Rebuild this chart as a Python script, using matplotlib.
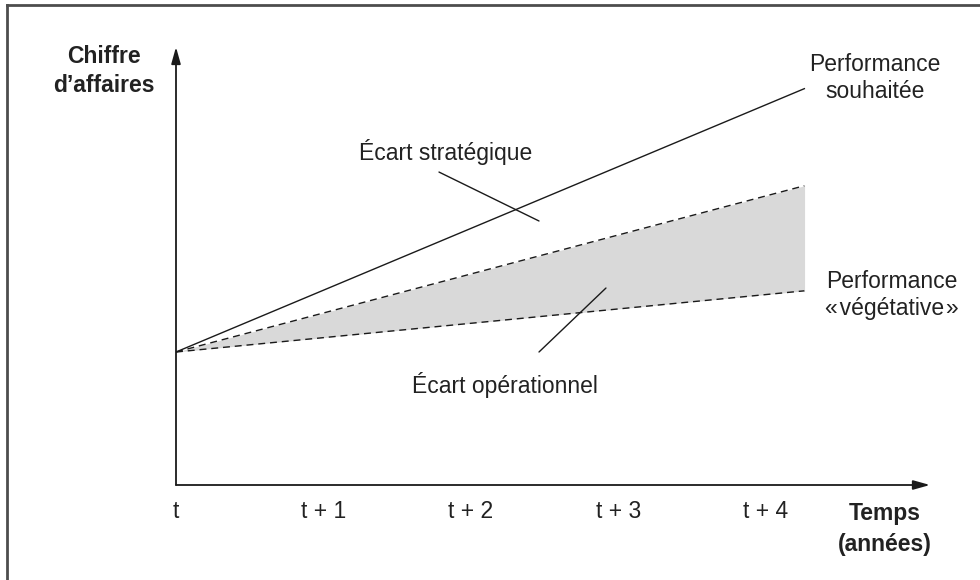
import matplotlib
matplotlib.use("Agg")
import matplotlib.pyplot as plt
from matplotlib.lines import Line2D

plt.rcParams['font.family'] = ['Liberation Sans', 'DejaVu Sans']

# ---- data ----
periods = ["t", "t + 1", "t + 2", "t + 3", "t + 4"]
period_pos = [0, 1, 2, 3, 4]
x_line = [0.0, 4.26]                 # time span of the curves
souhaitee = [1.0, 2.98]              # desired performance
operationnelle = [1.0, 2.25]         # upper bound of operational gap
vegetative = [1.0, 1.46]             # "vegetative" performance

W, H = 980, 580
fig = plt.figure(figsize=(W / 100, H / 100), dpi=100)

# axes placed so that the origin sits where the reference's origin is
x0, y0, x1, y1 = 176, 485, 930, 47
ax = fig.add_axes([x0 / W, (H - y0) / H, (x1 - x0) / W, (y0 - y1) / H])
kx = 147.5
ky = 133.0
xmax = (x1 - x0) / kx
ymax = (y0 - y1) / ky
ax.set_xlim(0, xmax)
ax.set_ylim(0, ymax)
for s in ax.spines.values():
    s.set_visible(False)
ax.set_yticks([])
ax.set_xticks(period_pos)
ax.set_xticklabels(periods, fontsize=16.5, color="#222222")
ax.tick_params(axis="x", length=0, pad=11)

ink = "#1a1a1a"
# axes arrows
ax.annotate("", xy=(xmax, 0), xytext=(0, 0),
            arrowprops=dict(arrowstyle="-|>,head_length=1.0,head_width=0.28",
                            color=ink, lw=1.3, shrinkA=0, shrinkB=0),
            annotation_clip=False)
ax.annotate("", xy=(0, ymax), xytext=(0, 0),
            arrowprops=dict(arrowstyle="-|>,head_length=1.0,head_width=0.28",
                            color=ink, lw=1.3, shrinkA=0, shrinkB=0),
            annotation_clip=False)

# fill between dashed lines
ax.fill_between(x_line, vegetative, operationnelle, color="#d9d9d9", lw=0, zorder=1)
ax.plot([x_line[-1], x_line[-1]], [vegetative[-1], operationnelle[-1]],
        color="#d9d9d9", lw=0.8, zorder=1)
ax.plot(x_line, souhaitee, color=ink, lw=1.0, zorder=3)
ax.plot(x_line, operationnelle, color=ink, lw=1.0, dashes=(5, 3.5), zorder=3)
ax.plot(x_line, vegetative, color=ink, lw=1.0, dashes=(5, 3.5), zorder=3)

# leader lines
ax.annotate("", xy=(2.461, 1.985), xytext=(1.783, 2.353),
            arrowprops=dict(arrowstyle="-", color=ink, lw=1.0, shrinkA=0, shrinkB=0))
ax.annotate("", xy=(2.461, 1.0), xytext=(2.915, 1.481),
            arrowprops=dict(arrowstyle="-", color=ink, lw=1.0, shrinkA=0, shrinkB=0))

txt = "#222222"
fs = 16.5
ax.text(1.83, 2.504, "Écart stratégique", ha="center", va="center", fontsize=fs, color=txt)
ax.text(2.23, 0.752, "Écart opérationnel", ha="center", va="center", fontsize=fs, color=txt)
ax.text(4.739, 3.06, "Performance\nsouhaitée", ha="center", va="center", fontsize=fs,
        color=txt, linespacing=1.24, clip_on=False)
ax.text(4.854, 1.429, "Performance\n«\u200avégétative\u200a»", ha="center", va="center",
        fontsize=fs, color=txt, linespacing=1.19, clip_on=False)
ax.text(-0.488, 3.113, "Chiffre\nd’affaires", ha="center", va="center", fontsize=fs,
        fontweight="bold", color=txt, linespacing=1.33, clip_on=False)
ax.text(4.807, -0.331, "Temps\n(années)", ha="center", va="center", fontsize=fs,
        fontweight="bold", color=txt, linespacing=1.45, clip_on=False)

# frame (top and left edges)
fig.add_artist(Line2D([6.5 / W, 6.5 / W], [0, 1 - 5 / H], transform=fig.transFigure,
                      color="#4d4d4d", lw=2.0))
fig.add_artist(Line2D([6.5 / W, 1], [1 - 5 / H, 1 - 5 / H], transform=fig.transFigure,
                      color="#4d4d4d", lw=2.0))

fig.savefig("out.png", dpi=100, facecolor="white")
